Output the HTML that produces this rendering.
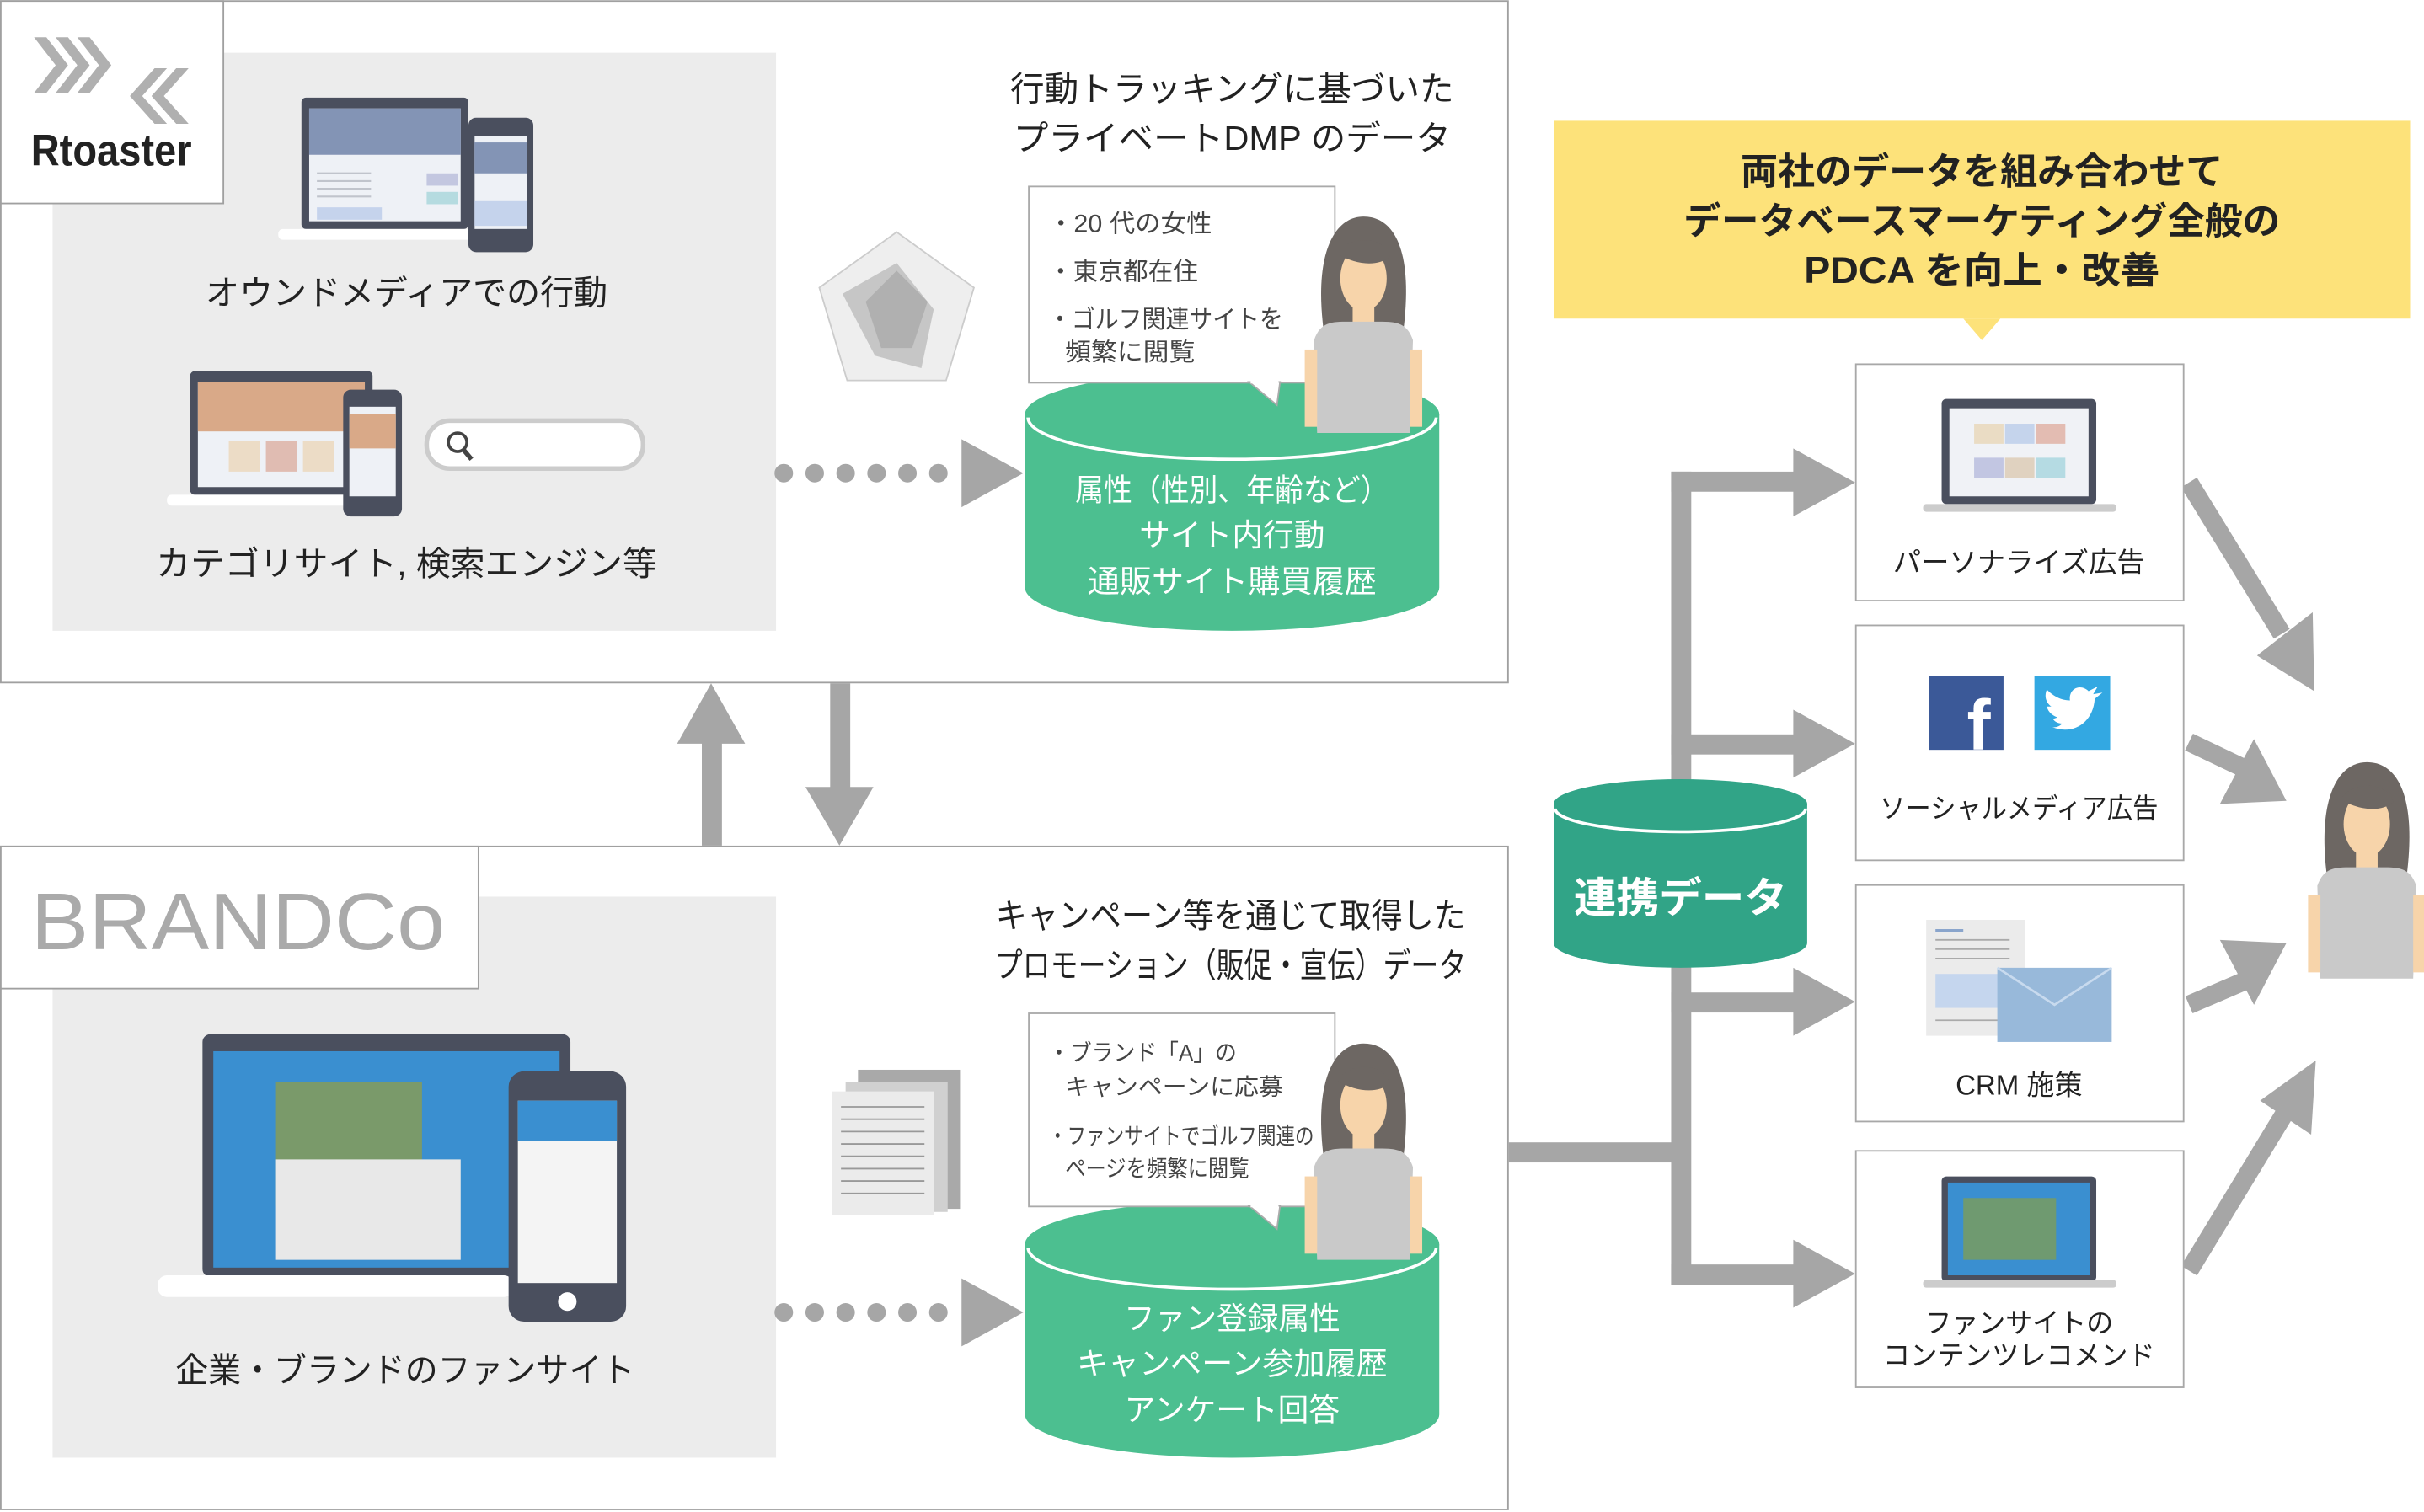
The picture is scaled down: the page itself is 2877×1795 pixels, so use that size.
<!DOCTYPE html>
<html><head><meta charset="utf-8"><style>
html,body{margin:0;padding:0;background:#fff}
svg{display:block}
text{font-family:"Liberation Sans","Noto Sans CJK JP",sans-serif}
</style></head><body>
<svg width="2877" height="1795" viewBox="0 0 1568 978" xmlns="http://www.w3.org/2000/svg">
<defs>
<g id="person">
 <path d="M-26,-10 C-32,-60 -18,-82 0,-82 C20,-82 32,-60 26,-10 Z" fill="#6d6763"/>
 <ellipse cx="0" cy="-42" rx="15" ry="21" fill="#f7d4aa"/>
 <path d="M-17,-58 C-10,-70 14,-70 17,-56 C10,-50 -4,-50 -17,-58Z" fill="#6d6763"/>
 <rect x="-7" y="-24" width="14" height="16" fill="#f7d4aa"/>
 <path d="M-32,-2 C-28,-14 -20,-14 -10,-14 L10,-14 C20,-14 28,-14 32,-2 L30,58 L-30,58 Z" fill="#c9c9c9"/>
 <rect x="-38" y="4" width="8" height="50" fill="#f7d4aa"/>
 <rect x="30" y="4" width="8" height="50" fill="#f7d4aa"/>
</g>
</defs>

<rect x="0.5" y="0.5" width="975" height="441" fill="#fff" stroke="#a0a0a0"/>
<rect x="34" y="34" width="468" height="374" fill="#ececec"/>
<rect x="0.5" y="0.5" width="144" height="131" fill="#fff" stroke="#a0a0a0"/>
<g fill="#b0b0b0">
 <polygon points="22,24 30,24 44,42 30,60 22,60 36,42"/>
 <polygon points="36,24 44,24 58,42 44,60 36,60 50,42"/>
 <polygon points="50,24 58,24 72,42 58,60 50,60 64,42"/>
 <polygon points="122,44 114,44 98,62 114,80 122,80 106,62"/>
 <polygon points="108,44 100,44 84,62 100,80 108,80 92,62"/>
</g>
<text x="20" y="107" font-size="29" font-weight="bold" fill="#222" textLength="104" lengthAdjust="spacingAndGlyphs">Rtoaster</text>

<rect x="195" y="63" width="108" height="85" rx="3" fill="#4a4f5e"/>
<rect x="200" y="70" width="98" height="73" fill="#eef1f6"/>
<rect x="200" y="70" width="98" height="30" fill="#8394b5"/>
<rect x="180" y="148" width="140" height="7" rx="3" fill="#fff"/>
<rect x="303" y="76" width="42" height="87" rx="5" fill="#4a4f5e"/>
<rect x="307" y="88" width="34" height="60" fill="#eef1f6"/>
<rect x="307" y="92" width="34" height="20" fill="#8394b5"/>
<rect x="307" y="130" width="34" height="16" fill="#c5d3ec"/>
<g stroke="#c0c4cc" stroke-width="1.2"><line x1="205" y1="112" x2="240" y2="112"/><line x1="205" y1="117" x2="240" y2="117"/><line x1="205" y1="122" x2="240" y2="122"/><line x1="205" y1="127" x2="240" y2="127"/></g>
<rect x="276" y="112" width="20" height="8" fill="#c3c7e0"/><rect x="276" y="124" width="20" height="8" fill="#b5dbe0"/>
<rect x="205" y="134" width="42" height="8" fill="#c5d3ec"/>
<text x="263" y="197" font-size="22" text-anchor="middle" fill="#222" textLength="260" lengthAdjust="spacingAndGlyphs">オウンドメディアでの行動</text>

<rect x="123" y="240" width="118" height="80" rx="3" fill="#4a4f5e"/>
<rect x="128" y="247" width="108" height="68" fill="#eef1f6"/>
<rect x="128" y="247" width="108" height="32" fill="#d9a988"/>
<rect x="148" y="285" width="20" height="20" fill="#ecdcc6"/><rect x="172" y="285" width="20" height="20" fill="#e0bcb2"/><rect x="196" y="285" width="20" height="20" fill="#ecdcc6"/>
<rect x="108" y="320" width="135" height="7" rx="3" fill="#fff"/>
<rect x="222" y="252" width="38" height="82" rx="5" fill="#4a4f5e"/>
<rect x="226" y="263" width="30" height="58" fill="#eef1f6"/>
<rect x="226" y="268" width="30" height="22" fill="#d9a988"/>
<rect x="276" y="272" width="140" height="31" rx="15" fill="#fff" stroke="#ccc" stroke-width="3"/>
<circle cx="296" cy="286" r="6" fill="none" stroke="#444" stroke-width="2"/><line x1="300" y1="291" x2="305" y2="297" stroke="#444" stroke-width="3"/>
<text x="263" y="372" font-size="22" text-anchor="middle" fill="#222" textLength="324" lengthAdjust="spacingAndGlyphs">カテゴリサイト, 検索エンジン等</text>

<polygon points="580,150 630,186 612,246 548,246 530,186" fill="#eee" stroke="#ccc"/>
<polygon points="580,170 604,200 596,238 566,230 545,190" fill="#bbb" opacity="0.8"/>
<polygon points="580,175 600,195 590,225 570,225 560,195" fill="#999" opacity="0.5"/>

<text x="797" y="65" font-size="22" text-anchor="middle" fill="#222" textLength="287" lengthAdjust="spacingAndGlyphs">行動トラッキングに基づいた</text>
<text x="797" y="97" font-size="22" text-anchor="middle" fill="#222" textLength="283" lengthAdjust="spacingAndGlyphs">プライベートDMP のデータ</text>

<path d="M663,268 L663,380 A134,28 0 0 0 931,380 L931,268 Z" fill="#4cbf90"/>
<ellipse cx="797" cy="268" rx="134" ry="28" fill="#4cbf90"/>
<rect x="665.5" y="120.5" width="198" height="127" fill="#fff" stroke="#aaa"/>
<polygon points="808,247 828,247 826,262" fill="#fff" stroke="#aaa"/>
<line x1="809" y1="247" x2="827" y2="247" stroke="#fff" stroke-width="2"/>
<text font-size="16" fill="#444" x="678" y="150" textLength="106" lengthAdjust="spacingAndGlyphs">・20 代の女性</text>
<text font-size="16" fill="#444" x="678" y="181" textLength="97" lengthAdjust="spacingAndGlyphs">・東京都在住</text>
<text font-size="16" fill="#444" x="678" y="212" textLength="152" lengthAdjust="spacingAndGlyphs">・ゴルフ関連サイトを</text>
<text font-size="16" fill="#444" x="689" y="233" textLength="84" lengthAdjust="spacingAndGlyphs">頻繁に閲覧</text>
<use href="#person" x="882" y="222"/>
<path d="M665,270 A132,27 0 0 0 929,270" fill="none" stroke="#fff" stroke-width="2"/>
<text x="797" y="324" font-size="20" fill="#fff" text-anchor="middle" textLength="203" lengthAdjust="spacingAndGlyphs">属性（性別、年齢など）</text>
<text x="797" y="353" font-size="20" fill="#fff" text-anchor="middle">サイト内行動</text>
<text x="797" y="383" font-size="20" fill="#fff" text-anchor="middle" textLength="187" lengthAdjust="spacingAndGlyphs">通販サイト購買履歴</text>

<g fill="#a6a6a6"><circle cx="507" cy="306" r="6"/><circle cx="527" cy="306" r="6"/><circle cx="547" cy="306" r="6"/><circle cx="567" cy="306" r="6"/><circle cx="587" cy="306" r="6"/><circle cx="607" cy="306" r="6"/>
<polygon points="622,284 662,306 622,328"/></g>

<g fill="#a6a6a6">
<rect x="454" y="478" width="13" height="69"/><polygon points="438,481 460,442 482,481"/>
<rect x="537" y="442" width="13" height="70"/><polygon points="521,509 543,547 565,509"/>
</g>

<rect x="0.5" y="547.5" width="975" height="429" fill="#fff" stroke="#a0a0a0"/>
<rect x="34" y="580" width="468" height="363" fill="#ececec"/>
<rect x="0.5" y="547.5" width="309" height="92" fill="#fff" stroke="#a0a0a0"/>
<text x="20" y="614" font-size="52" fill="#aaa" font-weight="300" textLength="268" lengthAdjust="spacingAndGlyphs">BRANDCo</text>

<rect x="131" y="669" width="238" height="157" rx="5" fill="#4a4f5e"/>
<rect x="138" y="680" width="224" height="140" fill="#3a8fd0"/>
<rect x="178" y="700" width="95" height="80" fill="#7a9a6a"/>
<rect x="178" y="750" width="120" height="65" fill="#e8e8e8"/>
<rect x="102" y="825" width="230" height="14" rx="6" fill="#fff"/>
<rect x="329" y="693" width="76" height="162" rx="10" fill="#4a4f5e"/>
<rect x="335" y="712" width="64" height="118" fill="#f4f4f4"/>
<rect x="335" y="712" width="64" height="26" fill="#3a8fd0"/>
<circle cx="367" cy="842" r="6" fill="#fff"/>
<text x="262" y="894" font-size="22" text-anchor="middle" fill="#222" textLength="297" lengthAdjust="spacingAndGlyphs">企業・ブランドのファンサイト</text>

<rect x="555" y="692" width="66" height="90" fill="#a9a9a9"/>
<rect x="547" y="700" width="66" height="84" fill="#d0d0d0"/>
<rect x="538" y="706" width="66" height="80" fill="#ebebeb"/>
<g stroke="#999" stroke-width="1"><line x1="544" y1="716" x2="598" y2="716"/><line x1="544" y1="724" x2="598" y2="724"/><line x1="544" y1="732" x2="598" y2="732"/><line x1="544" y1="740" x2="598" y2="740"/><line x1="544" y1="748" x2="598" y2="748"/><line x1="544" y1="756" x2="598" y2="756"/><line x1="544" y1="764" x2="598" y2="764"/><line x1="544" y1="772" x2="598" y2="772"/></g>

<text x="796" y="600" font-size="22" text-anchor="middle" fill="#222" textLength="304" lengthAdjust="spacingAndGlyphs">キャンペーン等を通じて取得した</text>
<text x="796" y="632" font-size="22" text-anchor="middle" fill="#222" textLength="305" lengthAdjust="spacingAndGlyphs">プロモーション（販促・宣伝）データ</text>

<path d="M663,805 L663,915 A134,28 0 0 0 931,915 L931,805 Z" fill="#4cbf90"/>
<ellipse cx="797" cy="805" rx="134" ry="28" fill="#4cbf90"/>
<rect x="665.5" y="655.5" width="198" height="125" fill="#fff" stroke="#aaa"/>
<polygon points="808,780 828,780 826,795" fill="#fff" stroke="#aaa"/>
<line x1="809" y1="780" x2="827" y2="780" stroke="#fff" stroke-width="2"/>
<text font-size="15" fill="#444" x="678" y="686" textLength="122" lengthAdjust="spacingAndGlyphs">・ブランド「A」の</text>
<text font-size="15" fill="#444" x="689" y="708" textLength="141" lengthAdjust="spacingAndGlyphs">キャンペーンに応募</text>
<text font-size="15" fill="#444" x="678" y="740" textLength="172" lengthAdjust="spacingAndGlyphs">・ファンサイトでゴルフ関連の</text>
<text font-size="15" fill="#444" x="689" y="761" textLength="119" lengthAdjust="spacingAndGlyphs">ページを頻繁に閲覧</text>
<use href="#person" x="882" y="757"/>
<path d="M665,807 A132,27 0 0 0 929,807" fill="none" stroke="#fff" stroke-width="2"/>
<text x="797" y="860" font-size="20" fill="#fff" text-anchor="middle">ファン登録属性</text>
<text x="797" y="889" font-size="20" fill="#fff" text-anchor="middle" textLength="201" lengthAdjust="spacingAndGlyphs">キャンペーン参加履歴</text>
<text x="797" y="919" font-size="20" fill="#fff" text-anchor="middle">アンケート回答</text>

<g fill="#a6a6a6"><circle cx="507" cy="849" r="6"/><circle cx="527" cy="849" r="6"/><circle cx="547" cy="849" r="6"/><circle cx="567" cy="849" r="6"/><circle cx="587" cy="849" r="6"/><circle cx="607" cy="849" r="6"/>
<polygon points="622,827 662,849 622,871"/></g>

<rect x="1005" y="78" width="554" height="128" fill="#fde27a"/>
<polygon points="1270,206 1294,206 1282,220" fill="#fde27a"/>
<text font-size="24" font-weight="bold" fill="#222" text-anchor="middle" x="1282" y="119" textLength="312" lengthAdjust="spacingAndGlyphs">両社のデータを組み合わせて</text>
<text font-size="24" font-weight="bold" fill="#222" text-anchor="middle" x="1282" y="151" textLength="386" lengthAdjust="spacingAndGlyphs">データベースマーケティング全般の</text>
<text font-size="24" font-weight="bold" fill="#222" text-anchor="middle" x="1282" y="183" textLength="230" lengthAdjust="spacingAndGlyphs">PDCA を向上・改善</text>

<g fill="#a6a6a6">
<rect x="1081" y="305" width="13" height="200"/>
<rect x="1081" y="625" width="13" height="206"/>
<rect x="976" y="739" width="111" height="13"/>
<rect x="1081" y="305" width="82" height="13"/><polygon points="1160,290 1200,312 1160,334"/>
<rect x="1081" y="475" width="82" height="13"/><polygon points="1160,459 1200,481 1160,503"/>
<rect x="1081" y="642" width="82" height="13"/><polygon points="1160,626 1200,648 1160,670"/>
<rect x="1081" y="818" width="82" height="13"/><polygon points="1160,802 1200,824 1160,846"/>
</g>
<g stroke="#a6a6a6" stroke-width="12">
<line x1="1416" y1="312" x2="1476" y2="410"/>
<line x1="1416" y1="480" x2="1458" y2="500"/>
<line x1="1416" y1="650" x2="1458" y2="632"/>
<line x1="1416" y1="822" x2="1478" y2="720"/>
</g>
<g fill="#a6a6a6">
<polygon points="1497,447 1460,424 1496,396"/>
<polygon points="1479,518 1436,520 1458,478"/>
<polygon points="1479,610 1458,650 1436,608"/>
<polygon points="1498,686 1495,734 1462,712"/>
</g>

<path d="M1005,520 L1005,610 A82,16 0 0 0 1169,610 L1169,520 Z" fill="#31a487"/>
<ellipse cx="1087" cy="520" rx="82" ry="16" fill="#31a487"/>
<path d="M1006,523 A81,15 0 0 0 1168,523" fill="none" stroke="#fff" stroke-width="2"/>
<text x="1087" y="590" font-size="27" font-weight="bold" fill="#fff" text-anchor="middle" textLength="138" lengthAdjust="spacingAndGlyphs">連携データ</text>

<g fill="#fff" stroke="#a8a8a8">
<rect x="1200.5" y="235.5" width="212" height="153"/>
<rect x="1200.5" y="404.5" width="212" height="152"/>
<rect x="1200.5" y="572.5" width="212" height="153"/>
<rect x="1200.5" y="744.5" width="212" height="153"/>
</g>
<rect x="1256" y="258" width="100" height="68" rx="3" fill="#4a4f5e"/>
<rect x="1261" y="264" width="90" height="57" fill="#f0f2f6"/>
<rect x="1277" y="274" width="19" height="13" fill="#eadcc4"/><rect x="1297" y="274" width="19" height="13" fill="#c5d4ec"/><rect x="1317" y="274" width="19" height="13" fill="#e3bcb2"/>
<rect x="1277" y="296" width="19" height="13" fill="#c2c6e2"/><rect x="1297" y="296" width="19" height="13" fill="#e0d2c0"/><rect x="1317" y="296" width="19" height="13" fill="#b5dbe3"/>
<rect x="1244" y="326" width="125" height="5" rx="2" fill="#ccc"/>
<text x="1306" y="370" font-size="18" text-anchor="middle" fill="#222" textLength="163" lengthAdjust="spacingAndGlyphs">パーソナライズ広告</text>
<rect x="1248" y="437" width="48" height="48" fill="#3b5998"/>
<text x="1280" y="485" font-size="46" font-weight="bold" fill="#fff" text-anchor="middle">f</text>
<rect x="1316" y="437" width="49" height="48" fill="#33a8e2"/>
<path d="M1327,470 C1340,476 1354,468 1355,452 L1360,448 L1354,449 L1357,444 L1351,447 C1346,442 1338,445 1339,453 C1332,453 1327,449 1324,446 C1322,451 1324,455 1327,457 L1324,457 C1325,461 1328,463 1331,464 L1328,465 C1329,467 1332,468 1334,468 C1332,470 1329,471 1327,470Z" fill="#fff"/>
<text x="1306" y="529" font-size="18" text-anchor="middle" fill="#222" textLength="180" lengthAdjust="spacingAndGlyphs">ソーシャルメディア広告</text>
<rect x="1246" y="595" width="64" height="75" fill="#ebebeb"/>
<rect x="1252" y="630" width="45" height="22" fill="#c5d6ee"/>
<g stroke="#aaa" stroke-width="1"><line x1="1252" y1="602" x2="1270" y2="602" stroke="#8aa5cc" stroke-width="2"/><line x1="1252" y1="608" x2="1300" y2="608"/><line x1="1252" y1="614" x2="1300" y2="614"/><line x1="1252" y1="620" x2="1300" y2="620"/><line x1="1252" y1="660" x2="1300" y2="660"/></g>
<rect x="1292" y="626" width="74" height="48" fill="#98b9da"/>
<polyline points="1292,626 1329,650 1366,626" fill="none" stroke="#c8daee" stroke-width="1.5"/>
<text x="1306" y="708" font-size="18" text-anchor="middle" fill="#222">CRM 施策</text>
<rect x="1256" y="761" width="100" height="68" rx="3" fill="#4a4f5e"/>
<rect x="1260" y="765" width="92" height="60" fill="#3a8fd0"/>
<rect x="1270" y="775" width="60" height="40" fill="#6f9a70"/>
<rect x="1244" y="828" width="125" height="5" rx="2" fill="#ccc"/>
<text x="1306" y="862" font-size="18" text-anchor="middle" fill="#222" textLength="122" lengthAdjust="spacingAndGlyphs">ファンサイトの</text>
<text x="1306" y="883" font-size="18" text-anchor="middle" fill="#222" textLength="176" lengthAdjust="spacingAndGlyphs">コンテンツレコメンド</text>

<use href="#person" x="1531" y="575"/>
</svg>
</body></html>
